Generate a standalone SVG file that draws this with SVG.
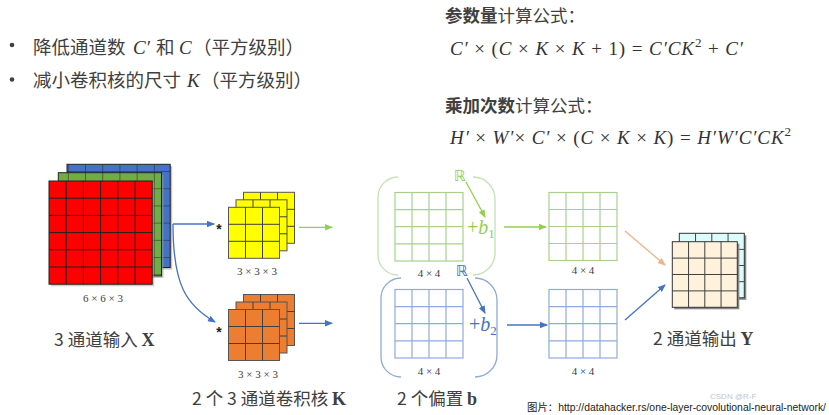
<svg xmlns="http://www.w3.org/2000/svg" width="829" height="415" viewBox="0 0 829 415">
<style>
.cjk{font-family:"Noto Sans CJK SC","Noto Sans",sans-serif;fill:#404040}
.math{font-family:"Liberation Serif","DejaVu Serif",serif;fill:#333}
.mi{font-style:italic}
.small{font-family:"Liberation Serif",serif;font-size:11px;fill:#404040;text-anchor:middle}
.gl{fill:none;stroke:#404040;stroke-width:1}
.ggrid{fill:none;stroke:#A9D18E;stroke-width:1.2}
.bgrid{fill:none;stroke:#8FAADC;stroke-width:1.2}
.arrow{fill:none;stroke-width:1.3}
</style>
<defs>
<marker id="ab" markerWidth="8" markerHeight="8" refX="7" refY="4" orient="auto" markerUnits="userSpaceOnUse"><path d="M0,0.8 L8,4 L0,7.2 z" fill="#4472C4"/></marker>
<marker id="ag" markerWidth="8" markerHeight="8" refX="7" refY="4" orient="auto" markerUnits="userSpaceOnUse"><path d="M0,0.8 L8,4 L0,7.2 z" fill="#92D050"/></marker>
<marker id="ao" markerWidth="8" markerHeight="8" refX="7" refY="4" orient="auto" markerUnits="userSpaceOnUse"><path d="M0,0.8 L8,4 L0,7.2 z" fill="#F4B183"/></marker>
<pattern id="g6" width="17.2" height="17.2" patternUnits="userSpaceOnUse"><path d="M17.2,0 V17.2 M0,17.2 H17.2" stroke="#222" stroke-width="1" fill="none"/></pattern>
</defs>
<rect width="829" height="415" fill="#ffffff"/>

<!-- bullets -->
<g id="bullets">
<circle cx="12" cy="45" r="2.3" fill="#404040"/>
<circle cx="12" cy="79.5" r="2.3" fill="#404040"/>
<text class="cjk" font-size="18.5" x="33" y="53.5">降低通道数</text>
<text class="math mi" font-size="19" x="133" y="53.5" fill="#404040">C′</text>
<text class="cjk" font-size="18.5" x="156" y="53.5">和</text>
<text class="math mi" font-size="19" x="179" y="53.5" fill="#404040">C</text>
<text class="cjk" font-size="18.5" x="193" y="53.5">（平方级别）</text>
<text class="cjk" font-size="18.5" x="33" y="87">减小卷积核的尺寸</text>
<text class="math mi" font-size="19" x="187" y="87" fill="#404040">K</text>
<text class="cjk" font-size="18.5" x="201" y="87">（平方级别）</text>
</g>

<!-- formulas -->
<g id="formulas">
<text class="cjk" font-size="17.5" x="445" y="21.5" fill="#333"><tspan font-weight="bold">参数量</tspan>计算公式：</text>
<text class="math" font-size="19" x="450" y="55" textLength="293" lengthAdjust="spacing"><tspan class="mi">C′</tspan> × (<tspan class="mi">C</tspan> × <tspan class="mi">K</tspan> × <tspan class="mi">K</tspan> + 1) = <tspan class="mi">C′CK</tspan><tspan font-size="13" dy="-8">2</tspan><tspan dy="8"> + </tspan><tspan class="mi">C′</tspan></text>
<text class="cjk" font-size="17.5" x="445" y="111.5" fill="#333"><tspan font-weight="bold">乘加次数</tspan>计算公式：</text>
<text class="math" font-size="19" x="450" y="143.5" textLength="341" lengthAdjust="spacing"><tspan class="mi">H′</tspan> × <tspan class="mi">W′</tspan>× <tspan class="mi">C′</tspan> × (<tspan class="mi">C</tspan> × <tspan class="mi">K</tspan> × <tspan class="mi">K</tspan>) = <tspan class="mi">H′W′C′CK</tspan><tspan font-size="13" dy="-8">2</tspan></text>
</g>

<!-- input cube -->
<g id="input">
<rect x="69" y="166.3" width="103.2" height="103.2" fill="#9a9a9a" opacity="0.6"/>
<rect x="67" y="164.3" width="103.2" height="103.2" fill="#4472C4"/>
<rect x="67" y="164.3" width="103.2" height="103.2" fill="url(#g6)" stroke="#222"/>
<rect x="60.3" y="174.7" width="103.2" height="103.2" fill="#9a9a9a" opacity="0.6"/>
<rect x="58.3" y="172.7" width="103.2" height="103.2" fill="#70AD47"/>
<rect x="58.3" y="172.7" width="103.2" height="103.2" fill="url(#g6)" stroke="#222"/>
<rect x="51" y="183" width="103.2" height="103.2" fill="#9a9a9a" opacity="0.5"/>
<rect x="49" y="181" width="103.2" height="103.2" fill="#FF0000"/>
<g stroke="#222" stroke-width="1" fill="none">
<rect x="49" y="181" width="103.2" height="103.2"/>
<path d="M66.2,181 V284.2 M83.4,181 V284.2 M100.6,181 V284.2 M117.8,181 V284.2 M135,181 V284.2 M49,198.2 H152.2 M49,215.4 H152.2 M49,232.6 H152.2 M49,249.8 H152.2 M49,267 H152.2"/>
</g>
<text class="small" x="103" y="302">6 × 6 × 3</text>
<text class="cjk" font-size="17.5" x="54" y="345.5">3 通道输入 <tspan font-family="Liberation Serif,serif" font-weight="bold" font-size="18">X</tspan></text>
</g>

<!-- yellow kernel -->
<g id="kernel1">
<g transform="translate(243.5,192.3)"><rect width="51" height="51" fill="#FFFF00" stroke="#555"/><path class="gl" d="M17,0V51M34,0V51M0,17H51M0,34H51" stroke="#555"/></g>
<g transform="translate(236,199.8)"><rect width="51" height="51" fill="#FFFF00" stroke="#555"/><path class="gl" d="M17,0V51M34,0V51M0,17H51M0,34H51" stroke="#555"/></g>
<g transform="translate(228.5,207.3)"><rect width="51" height="51" fill="#FFFF00" stroke="#555"/><path class="gl" d="M17,0V51M34,0V51M0,17H51M0,34H51" stroke="#555"/></g>
<text class="small" x="257" y="275">3 × 3 × 3</text>
</g>

<!-- orange kernel -->
<g id="kernel2">
<g transform="translate(243.5,294.5)"><rect width="51" height="51" fill="#ED7D31" stroke="#555"/><path class="gl" d="M17,0V51M34,0V51M0,17H51M0,34H51" stroke="#555"/></g>
<g transform="translate(236,302)"><rect width="51" height="51" fill="#ED7D31" stroke="#555"/><path class="gl" d="M17,0V51M34,0V51M0,17H51M0,34H51" stroke="#555"/></g>
<g transform="translate(228.5,309.5)"><rect width="51" height="51" fill="#ED7D31" stroke="#555"/><path class="gl" d="M17,0V51M34,0V51M0,17H51M0,34H51" stroke="#555"/></g>
<text class="small" x="258" y="378">3 × 3 × 3</text>
<text class="cjk" font-size="17.5" x="192" y="404.5">2 个 3 通道卷积核 <tspan font-family="Liberation Serif,serif" font-weight="bold" font-size="18">K</tspan></text>
</g>

<!-- bias blocks -->
<g id="bias1">
<path d="M398,177 A20,20 0 0 0 378,197 L378,255 A20,20 0 0 0 398,275" fill="none" stroke="#C5E0B4" stroke-width="1.3"/>
<path d="M473,177 A22,22 0 0 1 495,199 L495,253 A22,22 0 0 1 473,275" fill="none" stroke="#C5E0B4" stroke-width="1.3"/>
<g transform="translate(395,192.5)"><rect class="ggrid" width="68" height="68.5"/><path class="ggrid" d="M17,0V68.5M34,0V68.5M51,0V68.5M0,17.1H68M0,34.2H68M0,51.4H68"/></g>
<text class="small" x="429" y="276.5">4 × 4</text>
<text x="460" y="181" font-family="DejaVu Sans,sans-serif" font-size="15" fill="#92D050" text-anchor="middle">ℝ</text>
<text x="467" y="234" font-family="Liberation Serif,serif" font-size="20" fill="#92D050">+<tspan font-style="italic">b</tspan><tspan font-size="13" dy="4">1</tspan></text>
</g>
<g id="bias2">
<path d="M401,278 A20,20 0 0 0 381,298 L381,357 A20,20 0 0 0 401,377" fill="none" stroke="#8FAADC" stroke-width="1.3"/>
<path d="M475,278 A22,22 0 0 1 497,300 L497,355 A22,22 0 0 1 475,377" fill="none" stroke="#8FAADC" stroke-width="1.3"/>
<g transform="translate(395,289.5)"><rect class="bgrid" width="68" height="68.5"/><path class="bgrid" d="M17,0V68.5M34,0V68.5M51,0V68.5M0,17.1H68M0,34.2H68M0,51.4H68"/></g>
<text class="small" x="429" y="374.5">4 × 4</text>
<text x="462" y="276" font-family="DejaVu Sans,sans-serif" font-size="15" fill="#4472C4" text-anchor="middle">ℝ</text>
<text x="469" y="331" font-family="Liberation Serif,serif" font-size="20" fill="#4472C4">+<tspan font-style="italic">b</tspan><tspan font-size="13" dy="4">2</tspan></text>
<text class="cjk" font-size="17.5" x="397" y="404.5">2 个偏置 <tspan font-family="Liberation Serif,serif" font-weight="bold" font-size="18">b</tspan></text>
</g>

<!-- outputs of conv -->
<g id="out1">
<g transform="translate(549,192.5)"><rect class="ggrid" width="68" height="68"/><path class="ggrid" d="M17,0V68M34,0V68M51,0V68M0,17H68M0,34H68M0,51H68"/></g>
<text class="small" x="583" y="274">4 × 4</text>
</g>
<g id="out2">
<g transform="translate(549,289.5)"><rect class="bgrid" width="68" height="68.5"/><path class="bgrid" d="M17,0V68.5M34,0V68.5M51,0V68.5M0,17.1H68M0,34.2H68M0,51.4H68"/></g>
<text class="small" x="583" y="375">4 × 4</text>
</g>

<!-- output cube -->
<g id="output">
<rect x="681.3" y="235.3" width="65" height="64.5" fill="#888"/>
<g transform="translate(679.3,233.3)"><rect width="65" height="64.5" fill="#DDFBFB" stroke="#333"/><path class="gl" d="M16.25,0V64.5M32.5,0V64.5M48.75,0V64.5M0,16.1H65M0,32.2H65M0,48.4H65" stroke="#333"/></g>
<rect x="674.3" y="243.7" width="65" height="65.6" fill="#888"/>
<g transform="translate(672.3,241.7)"><rect width="65" height="65.6" fill="#FFF2DC" stroke="#333"/><path class="gl" d="M16.25,0V65.6M32.5,0V65.6M48.75,0V65.6M0,16.4H65M0,32.8H65M0,49.2H65" stroke="#333"/></g>
<text class="cjk" font-size="17.5" x="653" y="344.5">2 通道输出 <tspan font-family="Liberation Serif,serif" font-weight="bold" font-size="18">Y</tspan></text>
</g>

<!-- connectors -->
<g id="connectors">
<path class="arrow" d="M173,224 L214,224" stroke="#4472C4" marker-end="url(#ab)"/>
<path class="arrow" d="M173,224 C173,285 186,305 215,322" stroke="#4472C4" marker-end="url(#ab)"/>
<text x="219" y="233.5" font-family="Liberation Sans,sans-serif" font-weight="bold" font-size="14" fill="#222" text-anchor="middle">*</text>
<text x="219" y="336.5" font-family="Liberation Sans,sans-serif" font-weight="bold" font-size="14" fill="#222" text-anchor="middle">*</text>
<path class="arrow" d="M299,227.3 L332,227.3" stroke="#92D050" marker-end="url(#ag)"/>
<path class="arrow" d="M299,323.3 L332,323.3" stroke="#4472C4" marker-end="url(#ab)"/>
<path class="arrow" d="M466,182 L485,217" stroke="#92D050" marker-end="url(#ag)"/>
<path class="arrow" d="M467,278 L485,313" stroke="#4472C4" marker-end="url(#ab)"/>
<path class="arrow" d="M504,227 L546,227" stroke="#92D050" marker-end="url(#ag)"/>
<path class="arrow" d="M507,325 L547,325" stroke="#4472C4" marker-end="url(#ab)"/>
<path class="arrow" d="M625,231 L665,265" stroke="#F4B183" marker-end="url(#ao)"/>
<path class="arrow" d="M625,320 L665,285" stroke="#4472C4" marker-end="url(#ab)"/>
</g>

<text x="710" y="399" font-family="Liberation Sans,sans-serif" font-size="8" fill="#c4c4c4">CSDN @R-F</text>
<text x="527" y="410.5" font-family="Liberation Sans,'Noto Sans CJK SC',sans-serif" font-size="10.5" fill="#222" textLength="299" lengthAdjust="spacingAndGlyphs">图片：http://datahacker.rs/one-layer-covolutional-neural-network/</text>
</svg>
